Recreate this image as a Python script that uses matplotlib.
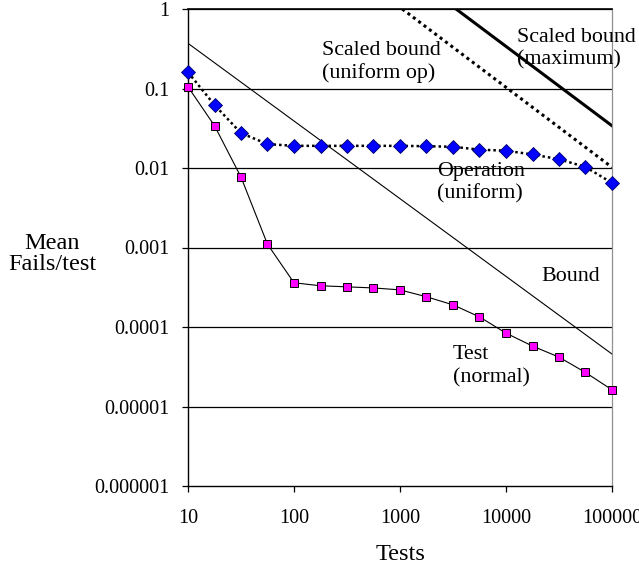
import matplotlib.pyplot as plt
from matplotlib.ticker import FixedLocator, FixedFormatter, NullLocator

plt.rcParams['font.family'] = ['Liberation Serif', 'DejaVu Serif']

# quarter-decade test counts
tests = [10, 17.8, 31.6, 56.2, 100, 178, 316, 562, 1000, 1778, 3162, 5623,
         10000, 17783, 31623, 56234, 100000]
operation_uniform = [0.16, 0.062, 0.0275, 0.020, 0.019, 0.019, 0.019, 0.019,
                     0.019, 0.0188, 0.0185, 0.017, 0.0165, 0.0148, 0.0129,
                     0.0103, 0.0065]
test_normal = [0.105, 0.034, 0.0077, 0.0011, 0.00036, 0.00033, 0.00032,
               0.00031, 0.000293, 0.00024, 0.00019, 0.000134, 0.0000837,
               0.0000576, 0.0000418, 0.0000268, 0.0000162]

bound_x = [10, 100000]
bound_y = [0.37, 0.0000457]
scaled_op_x = [1050, 100000]
scaled_op_y = [1.0, 0.0102]
scaled_max_x = [3380, 100000]
scaled_max_y = [1.0, 0.034]

yticks = [1e-6, 1e-5, 1e-4, 1e-3, 1e-2, 1e-1, 1]
ylabels = ['0.000001', '0.00001', '0.0001', '0.001', '0.01', '0.1', '1']
xticks = [10, 100, 1000, 10000, 100000]
xlabels = ['10', '100', '1000', '10000', '100000']

fig = plt.figure(figsize=(6.39, 5.69), dpi=100)
ax = fig.add_axes([188/639, 1-486/569, (612-188)/639, (486-9)/569])
ax.set_xscale('log')
ax.set_yscale('log')
ax.set_xlim(10, 100000)
ax.set_ylim(1e-6, 1)

for yv in yticks[1:]:
    ax.axhline(yv, color='black', lw=0.9, zorder=1)

ax.plot(bound_x, bound_y, color='black', lw=0.8, zorder=2)
ax.plot(scaled_op_x, scaled_op_y, color='black', lw=2.2, ls=(0, (1, 1.2)), zorder=2)
ax.plot(scaled_max_x, scaled_max_y, color='black', lw=2.2, zorder=2)
ax.plot(tests, operation_uniform, color='black', lw=1.8, ls=(0, (1, 1.2)),
        marker='D', markersize=7, markerfacecolor='#0000ff',
        markeredgecolor='#000066', markeredgewidth=0.6, zorder=3, clip_on=False)
ax.plot(tests, test_normal, color='black', lw=0.8,
        marker='s', markersize=6, markerfacecolor='#ff00ff',
        markeredgecolor='black', markeredgewidth=0.7, zorder=3, clip_on=False)

fs = 15.8
ls = 1.25
ax.text(184, 0.215, 'Scaled bound\n(uniform op)', fontsize=fs, ha='left', va='center', linespacing=ls)
ax.text(12700, 0.315, 'Scaled bound\n(maximum)', fontsize=fs, ha='left', va='center', linespacing=ls)
ax.text(2230, 0.0065, 'Operation\n(uniform)', fontsize=fs, ha='left', va='center', linespacing=ls)
ax.text(21400, 0.00043, 'Bound', fontsize=fs, ha='left', va='center')
ax.text(3160, 0.000032, 'Test\n(normal)', fontsize=fs, ha='left', va='center', linespacing=ls)

ax.yaxis.set_major_locator(FixedLocator(yticks))
ax.yaxis.set_major_formatter(FixedFormatter(ylabels))
ax.yaxis.set_minor_locator(NullLocator())
ax.xaxis.set_major_locator(FixedLocator(xticks))
ax.xaxis.set_major_formatter(FixedFormatter(xlabels))
ax.xaxis.set_minor_locator(NullLocator())
ax.tick_params(axis='both', direction='out', length=4.5, width=0.9, labelsize=14.5, color='black')
ax.tick_params(axis='y', pad=9)
ax.tick_params(axis='x', pad=12)

ax.spines['left'].set_linewidth(1.0)
ax.spines['bottom'].set_linewidth(1.0)
ax.spines['top'].set_linewidth(1.2)
ax.spines['right'].set_color('#909090')
ax.spines['right'].set_linewidth(0.9)

fig.text(52/639, 1-254/569, 'Mean\nFails/test', fontsize=17.5, ha='center', va='center', linespacing=1.0)
fig.text(400/639, 1-555/569, 'Tests', fontsize=17.5, ha='center', va='center')

fig.savefig('out.png', dpi=100)
